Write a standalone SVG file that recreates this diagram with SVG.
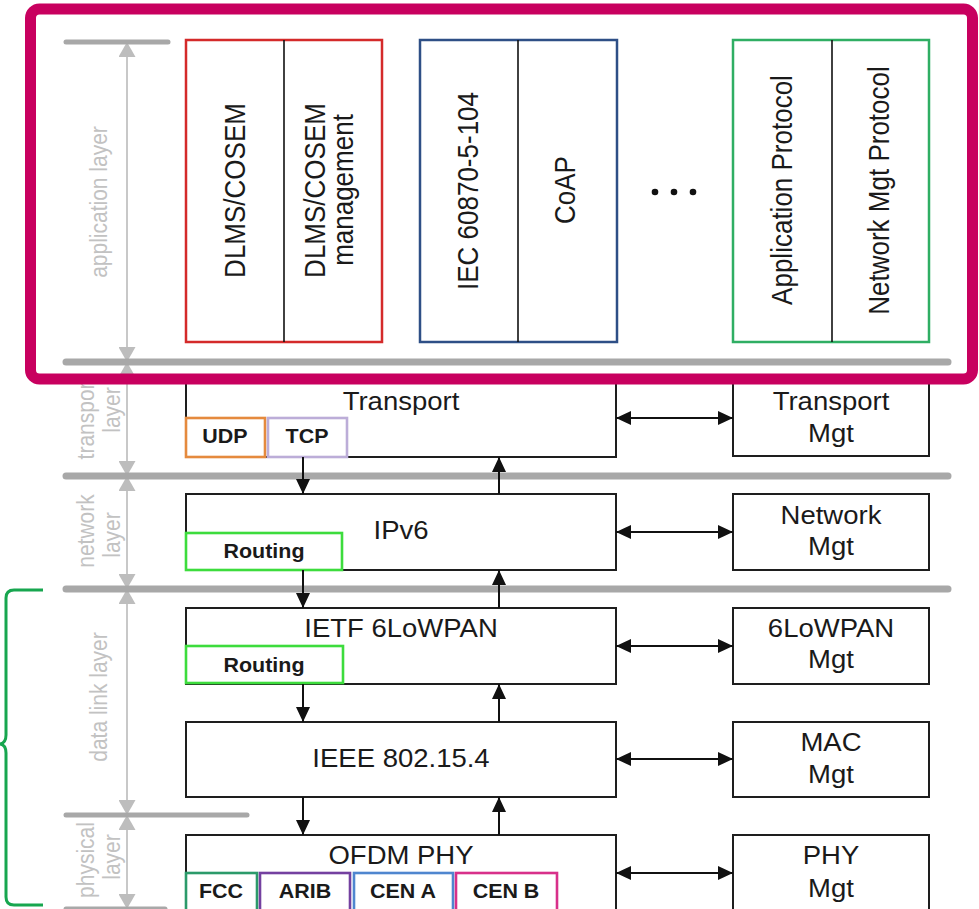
<svg xmlns="http://www.w3.org/2000/svg" width="979" height="909" viewBox="0 0 979 909">
  <defs>
    <style>
      .box{fill:#fff;stroke:#1e1e1e;stroke-width:2}
      .sub{fill:#fff;stroke-width:2.6}
      .div{stroke:#111;stroke-width:1.6}
      .t{font-family:"Liberation Sans",Arial,sans-serif;font-size:25px;fill:#1a1a1a;text-anchor:middle}
      .tv{font-size:26px}
      .tb{font-weight:bold;font-size:19.5px}
      .lbl{font-family:"Liberation Sans",Arial,sans-serif;font-size:21px;fill:#c2c2c2;text-anchor:middle}
      .sep{stroke:#a8a8a8;stroke-linecap:round;fill:none}
      .axis{stroke:#c8c8c8;stroke-width:2;fill:none}
      .conn{stroke:#111;stroke-width:2;fill:none}
    </style>
    <marker id="ah" viewBox="0 0 15 14" refX="15" refY="7" markerWidth="15" markerHeight="14" markerUnits="userSpaceOnUse" orient="auto-start-reverse">
      <path d="M0,0 L15,7 L0,14 Z" fill="#111"/>
    </marker>
    <marker id="gh" viewBox="0 0 15 17" refX="15" refY="8.5" markerWidth="15" markerHeight="17" markerUnits="userSpaceOnUse" orient="auto-start-reverse">
      <path d="M0,0 L15,8.5 L0,17 Z" fill="#bdbdbd"/>
    </marker>
  </defs>

  <rect width="979" height="909" fill="#fff"/>

  <!-- layer axis with span arrows -->
  <g id="axis">
    <line class="axis" x1="127" y1="42" x2="127" y2="362" marker-start="url(#gh)" marker-end="url(#gh)"/>
    <line class="axis" x1="127" y1="362" x2="127" y2="476" marker-start="url(#gh)" marker-end="url(#gh)"/>
    <line class="axis" x1="127" y1="476" x2="127" y2="589" marker-start="url(#gh)" marker-end="url(#gh)"/>
    <line class="axis" x1="127" y1="589" x2="127" y2="815" marker-start="url(#gh)" marker-end="url(#gh)"/>
    <line class="axis" x1="127" y1="815" x2="127" y2="909" marker-start="url(#gh)" marker-end="url(#gh)"/>
  </g>

  <!-- layer separators -->
  <g id="separators">
    <line class="sep" x1="66" y1="42" x2="168" y2="42" stroke-width="5"/>
    <line class="sep" x1="66" y1="362" x2="948" y2="362" stroke-width="7"/>
    <line class="sep" x1="66" y1="476" x2="948" y2="476" stroke-width="7"/>
    <line class="sep" x1="66" y1="589" x2="948" y2="589" stroke-width="7"/>
    <line class="sep" x1="66" y1="815" x2="247" y2="815" stroke-width="5"/>
    <line class="sep" x1="66" y1="909" x2="165" y2="909" stroke-width="5"/>
  </g>

  <!-- layer names -->
  <g id="layer-labels">
    <text class="lbl" transform="translate(107,202) scale(1.1,1) rotate(-90)">application layer</text>
    <text class="lbl" transform="translate(94,418) scale(1.1,1) rotate(-90)">transport</text>
    <text class="lbl" transform="translate(120,410) scale(1.1,1) rotate(-90)">layer</text>
    <text class="lbl" transform="translate(94,531) scale(1.1,1) rotate(-90)">network</text>
    <text class="lbl" transform="translate(120,535) scale(1.1,1) rotate(-90)">layer</text>
    <text class="lbl" transform="translate(107,697) scale(1.1,1) rotate(-90)">data link layer</text>
    <text class="lbl" transform="translate(94,860) scale(1.1,1) rotate(-90)">physical</text>
    <text class="lbl" transform="translate(120,857) scale(1.1,1) rotate(-90)">layer</text>
  </g>

  <!-- application protocols -->
  <g id="dlms-cosem">
    <rect x="186" y="40" width="196" height="302" fill="#fff" stroke="#d42a2a" stroke-width="2.5"/>
    <line class="div" x1="284" y1="40" x2="284" y2="342"/>
    <text class="t tv" transform="translate(245,190.5) scale(1.1,1) rotate(-90)">DLMS/COSEM</text>
    <text class="t tv" transform="translate(325,190.5) scale(1.1,1) rotate(-90)">DLMS/COSEM</text>
    <text class="t tv" transform="translate(353,190) scale(1.1,1) rotate(-90)">management</text>
  </g>
  <g id="iec-coap">
    <rect x="420" y="40" width="197" height="302" fill="#fff" stroke="#2e4f86" stroke-width="2.5"/>
    <line class="div" x1="518" y1="40" x2="518" y2="342"/>
    <text class="t tv" transform="translate(478,191) scale(1.1,1) rotate(-90)">IEC 60870-5-104</text>
    <text class="t tv" transform="translate(575,190) scale(1.1,1) rotate(-90)">CoAP</text>
  </g>
  <g id="ellipsis" fill="#111">
    <circle cx="655" cy="192" r="3.3"/>
    <circle cx="674" cy="192" r="3.3"/>
    <circle cx="693" cy="192" r="3.3"/>
  </g>
  <g id="generic-app">
    <rect x="733" y="40" width="196" height="302" fill="#fff" stroke="#2fae63" stroke-width="2.5"/>
    <line class="div" x1="832" y1="40" x2="832" y2="342"/>
    <text class="t tv" transform="translate(792,190) scale(1.1,1) rotate(-90)">Application Protocol</text>
    <text class="t tv" transform="translate(889,190.5) scale(1.1,1) rotate(-90)">Network Mgt Protocol</text>
  </g>

  <!-- protocol stack -->
  <g id="transport">
    <rect class="box" x="186" y="381" width="430" height="76"/>
    <text class="t" transform="translate(401,410) scale(1.1,1)">Transport</text>
    <rect class="sub" x="186" y="418" width="79" height="39" stroke="#e58a3e"/>
    <text class="t tb" transform="translate(225,443) scale(1.1,1)">UDP</text>
    <rect class="sub" x="268" y="418" width="79" height="39" stroke="#bcadd8"/>
    <text class="t tb" transform="translate(307,443) scale(1.1,1)">TCP</text>
  </g>
  <g id="ipv6">
    <rect class="box" x="186" y="494" width="430" height="76"/>
    <text class="t" transform="translate(401,539) scale(1.1,1)">IPv6</text>
    <rect class="sub" x="186" y="533" width="156" height="37" stroke="#3ddc3d" stroke-width="3"/>
    <text class="t tb" transform="translate(264,558) scale(1.1,1)">Routing</text>
  </g>
  <g id="sixlowpan">
    <rect class="box" x="186" y="608" width="430" height="76"/>
    <text class="t" transform="translate(401,637) scale(1.1,1)">IETF 6LoWPAN</text>
    <rect class="sub" x="186" y="646" width="157" height="37" stroke="#3ddc3d" stroke-width="3"/>
    <text class="t tb" transform="translate(264,672) scale(1.1,1)">Routing</text>
  </g>
  <g id="ieee802154">
    <rect class="box" x="186" y="722" width="430" height="75"/>
    <text class="t" transform="translate(401,767) scale(1.1,1)">IEEE 802.15.4</text>
  </g>
  <g id="ofdm-phy">
    <rect class="box" x="186" y="835" width="430" height="90"/>
    <text class="t" transform="translate(401,864) scale(1.1,1)">OFDM PHY</text>
    <rect class="sub" x="186" y="873" width="71" height="45" stroke="#2b9a6a"/>
    <text class="t tb" transform="translate(221,898) scale(1.1,1)">FCC</text>
    <rect class="sub" x="260" y="873" width="90" height="45" stroke="#7440a0"/>
    <text class="t tb" transform="translate(305,898) scale(1.1,1)">ARIB</text>
    <rect class="sub" x="354" y="873" width="99" height="45" stroke="#4f86cf"/>
    <text class="t tb" transform="translate(403,898) scale(1.1,1)">CEN A</text>
    <rect class="sub" x="456" y="873" width="101" height="45" stroke="#d8308a"/>
    <text class="t tb" transform="translate(506,898) scale(1.1,1)">CEN B</text>
  </g>

  <!-- management entities -->
  <g id="transport-mgt">
    <rect class="box" x="733" y="381" width="196" height="75"/>
    <text class="t" transform="translate(831,410) scale(1.1,1)">Transport</text>
    <text class="t" transform="translate(831,442) scale(1.1,1)">Mgt</text>
  </g>
  <g id="network-mgt">
    <rect class="box" x="733" y="494" width="196" height="76"/>
    <text class="t" transform="translate(831,524) scale(1.1,1)">Network</text>
    <text class="t" transform="translate(831,555) scale(1.1,1)">Mgt</text>
  </g>
  <g id="sixlowpan-mgt">
    <rect class="box" x="733" y="608" width="196" height="76"/>
    <text class="t" transform="translate(831,637) scale(1.1,1)">6LoWPAN</text>
    <text class="t" transform="translate(831,668) scale(1.1,1)">Mgt</text>
  </g>
  <g id="mac-mgt">
    <rect class="box" x="733" y="722" width="196" height="75"/>
    <text class="t" transform="translate(831,751) scale(1.1,1)">MAC</text>
    <text class="t" transform="translate(831,783) scale(1.1,1)">Mgt</text>
  </g>
  <g id="phy-mgt">
    <rect class="box" x="733" y="835" width="196" height="90"/>
    <text class="t" transform="translate(831,864) scale(1.1,1)">PHY</text>
    <text class="t" transform="translate(831,897) scale(1.1,1)">Mgt</text>
  </g>

  <!-- data flow and management links -->
  <g id="connectors">
    <line class="conn" x1="303" y1="457" x2="303" y2="494" marker-end="url(#ah)"/>
    <line class="conn" x1="303" y1="570" x2="303" y2="608" marker-end="url(#ah)"/>
    <line class="conn" x1="303" y1="684" x2="303" y2="722" marker-end="url(#ah)"/>
    <line class="conn" x1="303" y1="797" x2="303" y2="835" marker-end="url(#ah)"/>
    <line class="conn" x1="499" y1="494" x2="499" y2="457" marker-end="url(#ah)"/>
    <line class="conn" x1="499" y1="608" x2="499" y2="570" marker-end="url(#ah)"/>
    <line class="conn" x1="499" y1="722" x2="499" y2="684" marker-end="url(#ah)"/>
    <line class="conn" x1="499" y1="835" x2="499" y2="797" marker-end="url(#ah)"/>
    <line class="conn" x1="616" y1="418" x2="733" y2="418" marker-start="url(#ah)" marker-end="url(#ah)"/>
    <line class="conn" x1="616" y1="532" x2="733" y2="532" marker-start="url(#ah)" marker-end="url(#ah)"/>
    <line class="conn" x1="616" y1="646" x2="733" y2="646" marker-start="url(#ah)" marker-end="url(#ah)"/>
    <line class="conn" x1="616" y1="759" x2="733" y2="759" marker-start="url(#ah)" marker-end="url(#ah)"/>
    <line class="conn" x1="616" y1="873" x2="733" y2="873" marker-start="url(#ah)" marker-end="url(#ah)"/>
  </g>

  <!-- highlight of the application layer -->
  <rect id="app-highlight" x="30.5" y="9" width="942" height="370" rx="9" fill="none" stroke="#c8005f" stroke-width="11"/>

  <!-- brace over data link and physical layers -->
  <path id="lower-brace" d="M43,590 L14,590 Q6,590 6,598 L6,735 Q6,743 0,744 Q6,745 6,753 L6,897 Q6,905 14,905 L43,905" fill="none" stroke="#17a64f" stroke-width="3"/>
</svg>
